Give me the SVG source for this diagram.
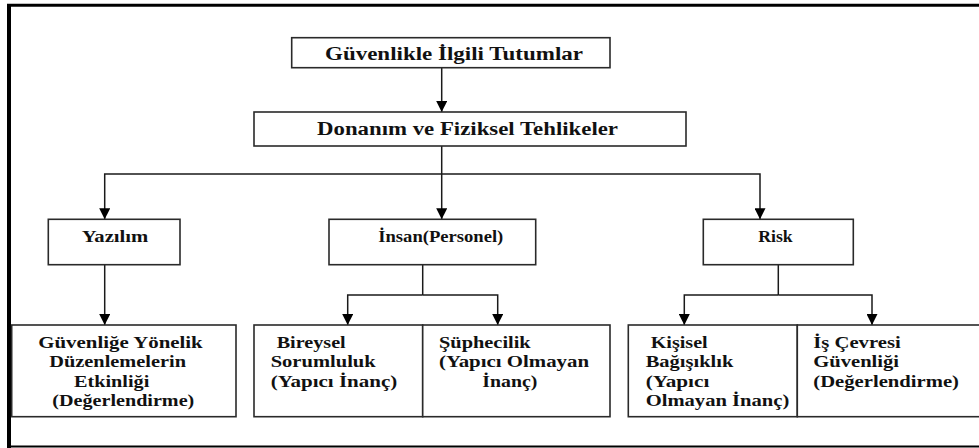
<svg xmlns="http://www.w3.org/2000/svg" width="979" height="448" viewBox="0 0 979 448">
  <style>
    .box { fill: #fff; stroke: #2a2a2a; stroke-width: 1.6; }
    .edge { fill: none; stroke: #1a1a1a; stroke-width: 1.5; }
    .lbl { font-family: "Liberation Serif", "Times New Roman", serif; font-weight: bold; fill: #111; }
    .t1 { font-size: 18px; }
    .t2 { font-size: 16px; }
    .t3 { font-size: 16.5px; }
    .frame { stroke: #000; fill: none; }
  </style>
  <defs>
    <marker id="arrow" markerUnits="userSpaceOnUse" markerWidth="12" markerHeight="11" refX="11" refY="5.5" orient="auto">
      <path d="M0,0 L11,5.5 L0,11 Z" fill="#000"/>
    </marker>
  </defs>

  <rect width="979" height="448" fill="#fff"/>

  <!-- outer frame (left, top, bottom) -->
  <g id="frame">
    <line class="frame" x1="7" y1="5.3" x2="979" y2="5.3" stroke-width="3"/>
    <line class="frame" x1="9" y1="4" x2="9" y2="448" stroke-width="4"/>
    <line class="frame" x1="7" y1="446.5" x2="979" y2="446.5" stroke-width="2"/>
  </g>

  <!-- connectors -->
  <g id="connectors">
    <path class="edge" d="M441.7,68 V112" marker-end="url(#arrow)"/>
    <path class="edge" d="M441.7,146 V219.3" marker-end="url(#arrow)"/>
    <path class="edge" d="M441.7,174 H104.7 V219.3" marker-end="url(#arrow)"/>
    <path class="edge" d="M441.7,174 H760 V219.3" marker-end="url(#arrow)"/>
    <path class="edge" d="M104.7,264.7 V325" marker-end="url(#arrow)"/>
    <path class="edge" d="M422.7,264.7 V295"/>
    <path class="edge" d="M422.7,295 H347.7 V325" marker-end="url(#arrow)"/>
    <path class="edge" d="M422.7,295 H497.7 V325" marker-end="url(#arrow)"/>
    <path class="edge" d="M778.3,264.7 V295"/>
    <path class="edge" d="M778.3,295 H684.3 V325" marker-end="url(#arrow)"/>
    <path class="edge" d="M778.3,295 H872 V325" marker-end="url(#arrow)"/>
  </g>

  <g id="tutumlar">
    <rect class="box" x="291.7" y="37.7" width="318.3" height="30"/>
    <text class="lbl t1" x="325" y="60" textLength="258" lengthAdjust="spacingAndGlyphs">Güvenlikle İlgili Tutumlar</text>
  </g>

  <g id="donanim">
    <rect class="box" x="254" y="112" width="432" height="34"/>
    <text class="lbl t1" x="317" y="135" textLength="301" lengthAdjust="spacingAndGlyphs">Donanım ve Fiziksel Tehlikeler</text>
  </g>

  <g id="yazilim">
    <rect class="box" x="48.3" y="219.3" width="131.7" height="45.4"/>
    <text class="lbl t2" x="81.7" y="241.7" textLength="66.6" lengthAdjust="spacingAndGlyphs">Yazılım</text>
  </g>

  <g id="insan">
    <rect class="box" x="329" y="219.3" width="206.7" height="45.4"/>
    <text class="lbl t2" x="378.3" y="241.7" textLength="125" lengthAdjust="spacingAndGlyphs">İnsan(Personel)</text>
  </g>

  <g id="risk">
    <rect class="box" x="703.3" y="219.3" width="150" height="45.4"/>
    <text class="lbl t2" x="758.3" y="241.7" textLength="34.4" lengthAdjust="spacingAndGlyphs">Risk</text>
  </g>

  <g id="duzenleme">
    <rect class="box" x="11.7" y="325" width="224.3" height="91.7"/>
    <text class="lbl t3">
      <tspan x="38.3" y="348.3" textLength="164.4" lengthAdjust="spacingAndGlyphs">Güvenliğe Yönelik</tspan>
      <tspan x="49.3" y="367.3" textLength="136.7" lengthAdjust="spacingAndGlyphs">Düzenlemelerin</tspan>
      <tspan x="74" y="386.7" textLength="75.3" lengthAdjust="spacingAndGlyphs">Etkinliği</tspan>
      <tspan x="52.3" y="405.7" textLength="142" lengthAdjust="spacingAndGlyphs">(Değerlendirme)</tspan>
    </text>
  </g>

  <g id="bireysel">
    <rect class="box" x="254" y="325" width="168.7" height="91.7"/>
    <text class="lbl t3">
      <tspan x="276.7" y="348.3" textLength="69" lengthAdjust="spacingAndGlyphs">Bireysel</tspan>
      <tspan x="270.7" y="367.3" textLength="105" lengthAdjust="spacingAndGlyphs">Sorumluluk</tspan>
      <tspan x="270.7" y="386.7" textLength="126.6" lengthAdjust="spacingAndGlyphs">(Yapıcı İnanç)</tspan>
    </text>
  </g>

  <g id="suphecilik">
    <rect class="box" x="422.7" y="325" width="187.3" height="91.7"/>
    <text class="lbl t3">
      <tspan x="439" y="348.3" textLength="91.7" lengthAdjust="spacingAndGlyphs">Şüphecilik</tspan>
      <tspan x="439" y="367.3" textLength="150" lengthAdjust="spacingAndGlyphs">(Yapıcı Olmayan</tspan>
      <tspan x="482.3" y="386.7" textLength="55" lengthAdjust="spacingAndGlyphs">İnanç)</tspan>
    </text>
  </g>

  <g id="kisisel">
    <rect class="box" x="628.3" y="325" width="169" height="91.7"/>
    <text class="lbl t3">
      <tspan x="650.7" y="348.3" textLength="57" lengthAdjust="spacingAndGlyphs">Kişisel</tspan>
      <tspan x="645.7" y="367.3" textLength="87.6" lengthAdjust="spacingAndGlyphs">Bağışıklık</tspan>
      <tspan x="645.7" y="386.7" textLength="63.6" lengthAdjust="spacingAndGlyphs">(Yapıcı</tspan>
      <tspan x="645.7" y="405.7" textLength="143.6" lengthAdjust="spacingAndGlyphs">Olmayan İnanç)</tspan>
    </text>
  </g>

  <g id="is-cevresi">
    <rect class="box" x="797.3" y="325" width="190" height="91.7"/>
    <text class="lbl t3">
      <tspan x="813.3" y="348.3" textLength="87.4" lengthAdjust="spacingAndGlyphs">İş Çevresi</tspan>
      <tspan x="813.3" y="367.3" textLength="85.7" lengthAdjust="spacingAndGlyphs">Güvenliği</tspan>
      <tspan x="813.3" y="386.7" textLength="145.7" lengthAdjust="spacingAndGlyphs">(Değerlendirme)</tspan>
    </text>
  </g>
</svg>
